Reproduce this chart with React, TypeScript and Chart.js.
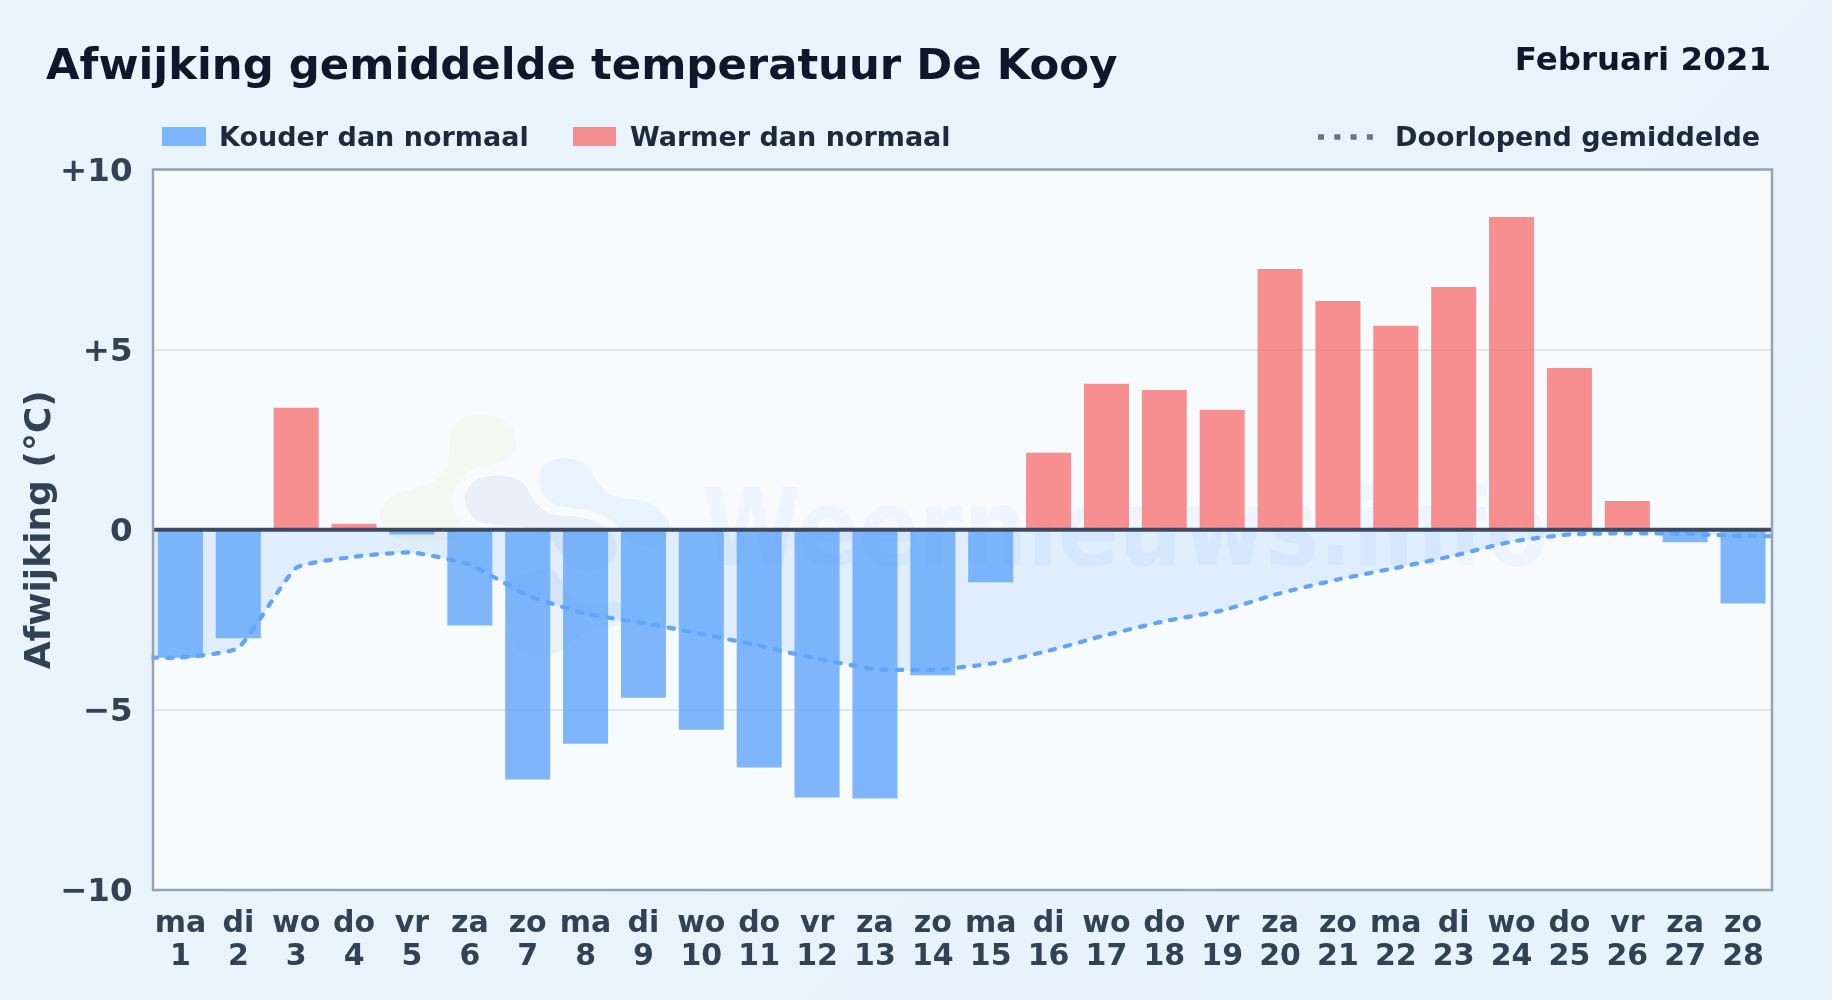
import React, { useEffect, useRef } from "react";
import { Chart, registerables } from "chart.js";

Chart.register(...registerables);

const FONT = '"DejaVu Sans", sans-serif';
const TITLE = "Afwijking gemiddelde temperatuur De Kooy";
const PERIOD = "Februari 2021";
const Y_TITLE = "Afwijking (°C)";
const LEGEND_COLD = "Kouder dan normaal";
const LEGEND_WARM = "Warmer dan normaal";
const LEGEND_AVG = "Doorlopend gemiddelde";
const WATERMARK = "Weernieuws.info";

const days = [1, 2, 3, 4, 5, 6, 7, 8, 9, 10, 11, 12, 13, 14, 15, 16, 17, 18, 19, 20, 21, 22, 23, 24, 25, 26, 27, 28];
const weekdays = ["ma", "di", "wo", "do", "vr", "za", "zo", "ma", "di", "wo", "do", "vr", "za", "zo", "ma", "di", "wo", "do", "vr", "za", "zo", "ma", "di", "wo", "do", "vr", "za", "zo"];
const deviation = [-3.55, -3.01, 3.39, 0.17, -0.13, -2.66, -6.93, -5.94, -4.66, -5.55, -6.6, -7.43, -7.46, -4.04, -1.46, 2.14, 4.05, 3.88, 3.33, 7.24, 6.35, 5.66, 6.74, 8.68, 4.49, 0.8, -0.35, -2.05];
const runningMean = [-3.55, -3.28, -1.06, -0.75, -0.63, -0.97, -1.82, -2.33, -2.59, -2.89, -3.22, -3.58, -3.87, -3.89, -3.72, -3.36, -2.92, -2.54, -2.24, -1.76, -1.38, -1.06, -0.72, -0.33, -0.13, -0.1, -0.11, -0.18];

const yTicks = [-10, -5, 0, 5, 10];
const COLD = "rgba(96,165,250,0.8)";
const WARM = "rgba(246,110,110,0.77)";
const LINE = "#60a5fa";

const logoGreen = [[265,100],[300,50],[380,40],[450,65],[475,130],[455,180],[385,197],[320,210],[275,280],[280,340],[320,385],[280,420],[150,430],[70,400],[55,340],[85,285],[180,262],[245,235],[270,170]];
const logoGrey = [[305,290],[340,235],[430,222],[495,245],[525,310],[570,345],[660,350],[730,370],[778,430],[760,490],[690,520],[620,500],[590,430],[500,378],[420,378],[340,365]];
const logoBlue = [[530,235],[560,178],[640,172],[690,200],[712,250],[760,295],[850,297],[920,340],[935,400],[880,450],[800,420],[770,370],[700,330],[620,325],[560,305]];
const logoLower = [[430,540],[500,520],[585,500],[610,560],[650,610],[740,610],[790,600],[790,680],[690,690],[640,720],[590,765],[500,770],[445,730]];

const FRAME_INSET = 1.5;

function blob(ctx: CanvasRenderingContext2D, pts: number[][], fill: string) {
  const P = pts.map(([x, y]) => [360 + x / 3, 400 + y / 3]);
  ctx.beginPath();
  const n = P.length;
  ctx.moveTo((P[n - 1][0] + P[0][0]) / 2, (P[n - 1][1] + P[0][1]) / 2);
  for (let i = 0; i < n; i++) {
    const q = P[(i + 1) % n];
    ctx.quadraticCurveTo(P[i][0], P[i][1], (P[i][0] + q[0]) / 2, (P[i][1] + q[1]) / 2);
  }
  ctx.closePath();
  ctx.fillStyle = fill;
  ctx.fill();
}

const framePlugin = {
  id: "frame",
  beforeDraw(chart: any) {
    const { ctx, chartArea: a } = chart;
    ctx.save();
    ctx.fillStyle = "#f8fbfe";
    ctx.fillRect(a.left + FRAME_INSET, a.top, a.right - a.left - FRAME_INSET, a.bottom - a.top);
    ctx.restore();
  },
  beforeDatasetsDraw(chart: any) {
    const { ctx, chartArea: a } = chart;
    ctx.save();
    ctx.beginPath();
    ctx.rect(a.left, a.top, a.right - a.left, a.bottom - a.top);
    ctx.clip();
    blob(ctx, logoGreen, "rgba(190,220,120,0.09)");
    blob(ctx, logoBlue, "rgba(96,180,250,0.10)");
    blob(ctx, logoGrey, "rgba(70,120,180,0.08)");
    blob(ctx, logoLower, "rgba(70,120,180,0.07)");
    ctx.font = `bold 107px ${FONT}`;
    ctx.fillStyle = "rgba(59,130,246,0.05)";
    ctx.textAlign = "left";
    ctx.textBaseline = "alphabetic";
    ctx.fillText(WATERMARK, 702, 565, 846);
    ctx.restore();
  },
  afterDatasetsDraw(chart: any) {
    const { ctx, chartArea: a, scales } = chart;
    const y0 = scales.y.getPixelForValue(0);
    const left = a.left + FRAME_INSET;
    ctx.save();
    ctx.strokeStyle = "#3b4a60";
    ctx.lineWidth = 4;
    ctx.beginPath();
    ctx.moveTo(left, y0);
    ctx.lineTo(a.right, y0);
    ctx.stroke();
    ctx.strokeStyle = "#94a3b8";
    ctx.lineWidth = 2.5;
    ctx.strokeRect(left, a.top, a.right - left, a.bottom - a.top);
    ctx.restore();
  },
};

const abs = (s: React.CSSProperties): React.CSSProperties => ({ position: "absolute", whiteSpace: "nowrap", fontFamily: FONT, fontWeight: 700, ...s });

export default function App() {
  const ref = useRef<HTMLCanvasElement | null>(null);
  useEffect(() => {
    document.body.style.margin = "0";
    const chart = new Chart(ref.current as HTMLCanvasElement, {
      type: "bar",
      plugins: [framePlugin],
      data: {
        datasets: [
          {
            type: "line",
            label: LEGEND_AVG,
            data: [
              { x: days[0] - 0.5, y: runningMean[0] },
              ...days.map((d, i) => ({ x: d, y: runningMean[i] })),
              { x: days[days.length - 1] + 0.5, y: runningMean[runningMean.length - 1] },
            ],
            borderColor: LINE,
            borderWidth: 4.2,
            borderDash: [5.5, 10],
            borderCapStyle: "round",
            pointRadius: 0,
            tension: 0.15,
            fill: "origin",
            backgroundColor: "rgba(96,165,250,0.16)",
            order: 0,
          },
          {
            type: "bar",
            label: "Afwijking",
            data: days.map((d, i) => ({ x: d, y: deviation[i] })),
            backgroundColor: (c: any) => (c.raw && c.raw.y < 0 ? COLD : WARM),
            categoryPercentage: 1,
            barPercentage: 0.778,
            order: 1,
          },
        ],
      } as any,
      options: {
        animation: false,
        responsive: false,
        devicePixelRatio: 1,
        layout: { padding: { left: 0, right: 60, top: 169.5, bottom: 0 } },
        plugins: {
          legend: { display: false },
          title: { display: false },
          tooltip: { enabled: false },
          filler: { drawTime: "beforeDatasetsDraw" },
        },
        scales: {
          x: {
            type: "linear",
            offset: false,
            bounds: "data",
            min: 0.5,
            max: 28.5,
            afterBuildTicks: (s: any) => {
              s.ticks = days.map((d) => ({ value: d }));
            },
            afterFit: (s: any) => {
              s.height = 110;
            },
            grid: { display: false, offset: false },
            border: { display: false },
            ticks: {
              autoSkip: false,
              maxRotation: 0,
              minRotation: 0,
              padding: 10,
              color: "#334155",
              font: { family: FONT, weight: "bold", size: 30, lineHeight: 1.1 },
              callback: (v: any) => [weekdays[days.indexOf(v)], String(v)],
            },
          },
          y: {
            min: -10,
            max: 10,
            afterBuildTicks: (s: any) => {
              s.ticks = yTicks.map((v) => ({ value: v }));
            },
            afterFit: (s: any) => {
              s.width = 151.5;
            },
            grid: { color: "#e2e6ea", lineWidth: 2, drawTicks: false },
            border: { display: false },
            title: {
              display: true,
              text: Y_TITLE,
              color: "#334155",
              font: { family: FONT, weight: "bold", size: 36 },
              padding: { top: 19, bottom: 0 },
            },
            ticks: {
              padding: 19,
              labelOffset: 3,
              color: "#334155",
              font: { family: FONT, weight: "bold", size: 32.5 },
              callback: (v: any) => (v > 0 ? `+${v}` : v < 0 ? `\u2212${Math.abs(v)}` : "0"),
            },
          },
        },
      } as any,
    });
    return () => chart.destroy();
  }, []);

  return (
    <div style={{ position: "fixed", left: 0, top: 0, width: 1832, height: 1000, overflow: "hidden", background: "linear-gradient(135deg,#eaf4fc,#e6f2fc)" }}>
      <canvas ref={ref} width={1832} height={1000} style={{ position: "absolute", left: 0, top: 0, width: 1832, height: 1000 }} />
      <div style={abs({ left: 46, top: 39, fontSize: 43.35, lineHeight: "50px", color: "#0f172a" })}>{TITLE}</div>
      <div style={abs({ right: 61, top: 41, fontSize: 32.5, lineHeight: "36px", color: "#0f172a" })}>{PERIOD}</div>
      <div style={{ position: "absolute", left: 162, top: 127, width: 44, height: 19, background: COLD }} />
      <div style={abs({ left: 219, top: 121, fontSize: 27, lineHeight: "32px", color: "#1e293b" })}>{LEGEND_COLD}</div>
      <div style={{ position: "absolute", left: 573, top: 127, width: 43, height: 19, background: WARM }} />
      <div style={abs({ left: 630, top: 121, fontSize: 27, lineHeight: "32px", color: "#1e293b" })}>{LEGEND_WARM}</div>
      <svg style={{ position: "absolute", left: 1316, top: 130, width: 60, height: 14 }}>
        <line x1="2" y1="7" x2="58" y2="7" stroke="#64748b" strokeWidth="5.5" strokeDasharray="6 10.3" />
      </svg>
      <div style={abs({ left: 1395, top: 121, fontSize: 27, lineHeight: "32px", color: "#1e293b" })}>{LEGEND_AVG}</div>
    </div>
  );
}
